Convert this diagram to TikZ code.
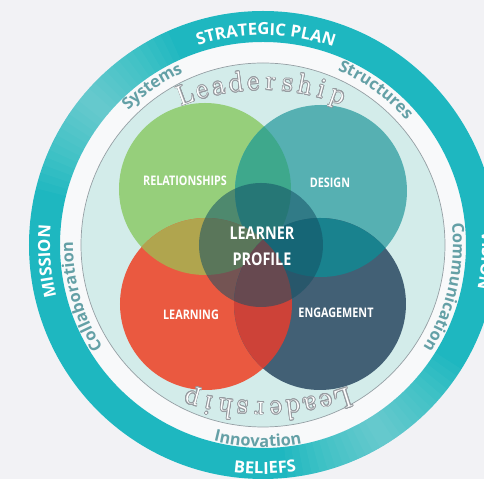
\documentclass[tikz,border=0pt]{standalone}
\usepackage{fontspec}
\usepackage{xcolor}
\usepackage{contour}
\usetikzlibrary{calc,decorations.text}
\newfontfamily\ringfont{Open Sans}
\newfontfamily\vennfont[FakeStretch=0.82]{Open Sans}
\definecolor{bggray}{RGB}{242,242,245}
\definecolor{ringteal}{RGB}{30,183,192}
\definecolor{bandwhite}{RGB}{248,249,250}
\definecolor{lightcyan}{RGB}{211,236,234}
\definecolor{edgegray}{RGB}{150,160,165}
\definecolor{bandtealtext}{RGB}{100,160,166}
\definecolor{leadgray}{RGB}{150,155,160}
\definecolor{relgreen}{RGB}{150,207,123}
\definecolor{designteal}{RGB}{86,176,178}
\definecolor{learnred}{RGB}{234,89,64}
\definecolor{engblue}{RGB}{66,96,117}
\definecolor{greenteal}{RGB}{62,168,140}
\definecolor{greenred}{RGB}{176,165,78}
\definecolor{tealblue}{RGB}{25,130,142}
\definecolor{redblue}{RGB}{205,66,56}
\definecolor{profileteal}{RGB}{20,80,100}
\contourlength{0.45pt}
\tikzset{
  ringtext/.style={decorate, decoration={text along path, text align=center,
    text color=white, text={|\ringfont\bfseries\fontsize{9.5}{9.5}\selectfont|#1}}},
  bandtext/.style={decorate, decoration={text along path, text align=center,
    text color=bandtealtext, text={|\ringfont\bfseries\fontsize{9.3}{9.3}\selectfont|#1}}},
  venntext/.style={text=white, font=\vennfont\bfseries\fontsize{7.5}{7.5}\selectfont,
    align=center, inner sep=0pt},
  leadletter/.style={inner sep=0pt, anchor=base, text=white,
    font=\fontsize{16}{16}\selectfont},
  shine/.style={white, opacity=0.03, line width=0.62cm}
}
\begin{document}
\begin{tikzpicture}[x=0.02cm, y=0.02cm]

\clip (-263,-234) rectangle (221,245);
\fill[bggray] (-263,-234) rectangle (221,245);

% outer ring, white band, inner disc
\fill[bandwhite] (0,0) circle[radius=204];
\draw[ringteal, line width=0.62cm] (0,0) circle[radius=218.5];
\foreach \d in {2,4,...,26} {
  \draw[shine] (140-\d:218.5) arc[start angle=140-\d, end angle=140+\d, radius=218.5];
  \draw[shine] (-58-\d:218.5) arc[start angle=-58-\d, end angle=-58+\d, radius=218.5];
}
\filldraw[fill=lightcyan, draw=edgegray, line width=0.4pt] (0,0) circle[radius=182];

% text on the ring
\path[ringtext={STRATEGIC PLAN}] (139.2:210) arc[start angle=139.2, end angle=39.2, radius=210];
\path[ringtext={MISSION}] (234.4:213) arc[start angle=234.4, end angle=134.4, radius=213];
\path[ringtext={VISION}] (46:219) arc[start angle=46, end angle=-54, radius=219];
\path[ringtext={BELIEFS}] (-139.5:229) arc[start angle=-139.5, end angle=-39.5, radius=229];

% text in the white band
\path[bandtext={Systems}] (175:190) arc[start angle=175, end angle=75, radius=190];
\path[bandtext={Structures}] (104:190) arc[start angle=104, end angle=4, radius=190];
\path[bandtext={Communication}] (37:190) arc[start angle=37, end angle=-63, radius=190];
\path[bandtext={Collaboration}] (245.8:190) arc[start angle=245.8, end angle=145.8, radius=190];
\path[bandtext={Innovation}] (-141.5:202) arc[start angle=-141.5, end angle=-41.5, radius=202];

% the four circles
\fill[relgreen] (-58,56) circle[radius=86];
\fill[designteal] (58,54) circle[radius=86];
\fill[learnred] (-57,-59) circle[radius=86];
\fill[engblue] (57,-59) circle[radius=86];

% overlaps
\begin{scope}
  \clip (-58,56) circle[radius=86];
  \fill[greenteal] (58,54) circle[radius=86];
  \fill[greenred] (-57,-59) circle[radius=86];
\end{scope}
\begin{scope}
  \clip (57,-59) circle[radius=86];
  \fill[tealblue] (58,54) circle[radius=86];
  \fill[redblue] (-57,-59) circle[radius=86];
\end{scope}

% centre
\fill[profileteal, fill opacity=0.55] (-2,0) circle[radius=62];

% Leadership, top and upside down at the bottom
\foreach \ch [count=\i from 0] in {L,e,a,d,e,r,s,h,i,p} {
  \pgfmathsetmacro\angt{110.3-4.45*\i}
  \pgfmathsetmacro\angb{-72.4-3.68*\i}
  \node[leadletter, rotate=\angt-90] (lt\i) at ($(0,-60)+(\angt:215)$) {\contour{leadgray}{\ch}};
  \node[leadletter, rotate=\angb-90] (lb\i) at ($(0,100)+(\angb:257)$) {\contour{leadgray}{\ch}};
}

\node[venntext] (rel) at (-78,64) {RELATIONSHIPS};
\node[venntext] (des) at (67,62) {DESIGN};
\node[venntext, font=\vennfont\bfseries\fontsize{10}{15}\selectfont] (prof) at (-1,-1) {LEARNER\\PROFILE};
\node[venntext] (learn) at (-72,-70) {LEARNING};
\node[venntext] (eng) at (73,-68) {ENGAGEMENT};

\end{tikzpicture}
\end{document}
